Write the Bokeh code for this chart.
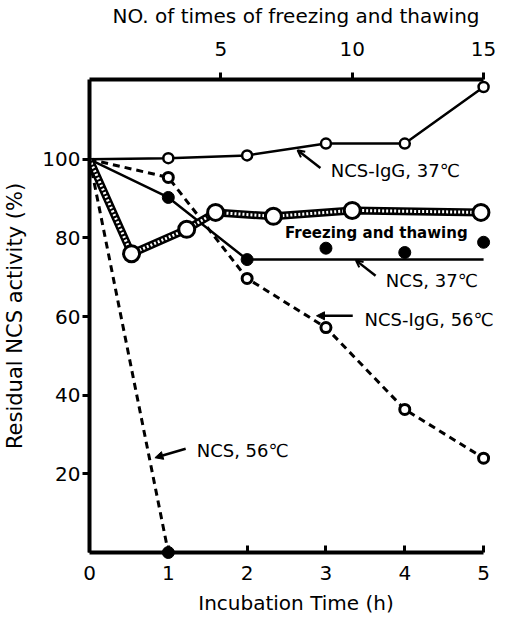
from bokeh.plotting import figure
from bokeh.models import (Range1d, LinearAxis, FixedTicker, Label, Arrow,
                          NormalHead, OpenHead)
from bokeh.embed import file_html
from bokeh.resources import INLINE

# ---- data ----
igg37_t = [0, 1, 2, 3, 4, 5]
igg37_v = [100, 100.3, 101, 104, 104, 118.4]

ncs37_line_t = [0, 1, 2, 5]
ncs37_line_v = [100, 90.3, 74.5, 74.5]
ncs37_dot_t = [1, 2, 3, 4, 5]
ncs37_dot_v = [90.3, 74.5, 77.4, 76.3, 78.9]

freeze_cycles = [0, 1.6, 3.7, 4.8, 7.0, 10.0, 14.9]
freeze_v = [100, 76, 82.2, 86.5, 85.5, 87, 86.5]

igg56_t = [0, 1, 2, 3, 4, 5]
igg56_v = [100, 95.4, 69.7, 57.2, 36.4, 24]

ncs56_t = [0, 1]
ncs56_v = [100, 0]

x_ticks = [0, 1, 2, 3, 4, 5]
y_ticks = [20, 40, 60, 80, 100]
top_ticks = [5, 10, 15]

FONT = "DejaVu Sans"
X_END = 5.24
Y_END = 120.3

p = figure(width=494, height=602, output_backend="svg", toolbar_location=None,
           x_range=Range1d(0, X_END), y_range=Range1d(0, Y_END),
           x_axis_location=None, y_axis_location=None,
           min_border_left=79, min_border_top=71, min_border_right=2,
           min_border_bottom=58, frame_width=413, frame_height=473)
p.outline_line_color = None
p.grid.visible = False
p.background_fill_color = "white"
p.border_fill_color = "white"

p.extra_x_ranges = {"cycles": Range1d(0, X_END * 3)}

# axes
xb = LinearAxis(ticker=FixedTicker(ticks=x_ticks), bounds=(x_ticks[0], x_ticks[-1]),
                axis_label="Incubation Time (h)")
yl = LinearAxis(ticker=FixedTicker(ticks=y_ticks),
                axis_label="Residual NCS activity (%)")
xt = LinearAxis(x_range_name="cycles", ticker=FixedTicker(ticks=top_ticks),
                bounds=(0, top_ticks[-1]),
                axis_label="NO. of times of freezing and thawing")
for ax in (xb, yl, xt):
    ax.axis_line_width = 4
    ax.axis_line_color = "black"
    ax.major_tick_line_width = 3
    ax.major_tick_line_color = "black"
    ax.minor_tick_line_color = None
    ax.major_label_text_font = FONT
    ax.major_label_text_font_size = "20px"
    ax.major_label_text_color = "black"
    ax.axis_label_text_font = FONT
    ax.axis_label_text_font_size = "20px"
    ax.axis_label_text_font_style = "normal"
    ax.axis_label_text_color = "black"
xb.major_tick_in = 7
xb.major_tick_out = 0
xb.major_label_standoff = 13
xb.axis_label_standoff = 8
yl.major_tick_in = 0
yl.major_tick_out = 7
yl.major_label_standoff = 2
yl.axis_label_standoff = 12
yl.axis_label_text_font_size = "21px"
xt.major_tick_in = 0
xt.major_tick_out = 7
xt.major_label_standoff = 17
xt.axis_label_standoff = 11
p.add_layout(xb, "below")
p.add_layout(yl, "left")
p.add_layout(xt, "above")

# NCS, 56C (dashed, filled end point)
p.line(ncs56_t, ncs56_v, line_color="black", line_width=3, line_dash="7 5")
p.scatter(ncs56_t[1:], ncs56_v[1:], size=12, fill_color="black",
          line_color="black", level="overlay")

# NCS-IgG, 56C (dashed, open circles)
p.line(igg56_t, igg56_v, line_color="black", line_width=3, line_dash="7 5")
p.scatter(igg56_t[1:], igg56_v[1:], size=10, fill_color="white",
          line_color="black", line_width=3)

# NCS, 37C (solid, filled)
p.line(ncs37_line_t, ncs37_line_v, line_color="black", line_width=2.5)
p.scatter(ncs37_dot_t, ncs37_dot_v, size=12, fill_color="black", line_color="black")

# NCS-IgG, 37C (solid, open circles)
p.line(igg37_t, igg37_v, line_color="black", line_width=2.5)
p.scatter(igg37_t[1:], igg37_v[1:], size=10, fill_color="white",
          line_color="black", line_width=2.5)

# Freezing and thawing (thick hatched line, large open circles)
p.line(freeze_cycles, freeze_v, x_range_name="cycles", line_color="black",
       line_width=8)
p.line(freeze_cycles, freeze_v, x_range_name="cycles", line_color="white",
       line_width=3, line_dash="2 2")
p.scatter(freeze_cycles[1:], freeze_v[1:], x_range_name="cycles", size=16,
          fill_color="white", line_color="black", line_width=3)

# annotations
def lab(x, y, t, size="18px", style="normal"):
    p.add_layout(Label(x=x, y=y, text=t, text_font=FONT, text_font_size=size,
                       text_font_style=style, text_baseline="middle",
                       text_align="left", text_color="black"))

lab(3.06, 97.1, "NCS-IgG, 37\u2103")
lab(2.48, 81.3, "Freezing and thawing", size="15px", style="bold")
lab(3.76, 69.1, "NCS, 37\u2103")
lab(3.49, 59.2, "NCS-IgG, 56\u2103")
lab(1.36, 25.9, "NCS, 56\u2103")

def arrow(x0, y0, x1, y1, head):
    p.add_layout(Arrow(x_start=x0, y_start=y0, x_end=x1, y_end=y1,
                       line_width=2.5, line_color="black", end=head))

arrow(2.93, 97.8, 2.64, 102.3, OpenHead(size=7, line_width=2))
arrow(3.63, 70.4, 3.38, 74.3, OpenHead(size=7, line_width=2))
arrow(3.34, 60.2, 2.88, 60.2, NormalHead(size=8, fill_color="black", line_color="black"))
arrow(1.22, 26.4, 0.83, 24.1, NormalHead(size=8, fill_color="black", line_color="black"))

open("out.html", "w").write(file_html(p, INLINE))
